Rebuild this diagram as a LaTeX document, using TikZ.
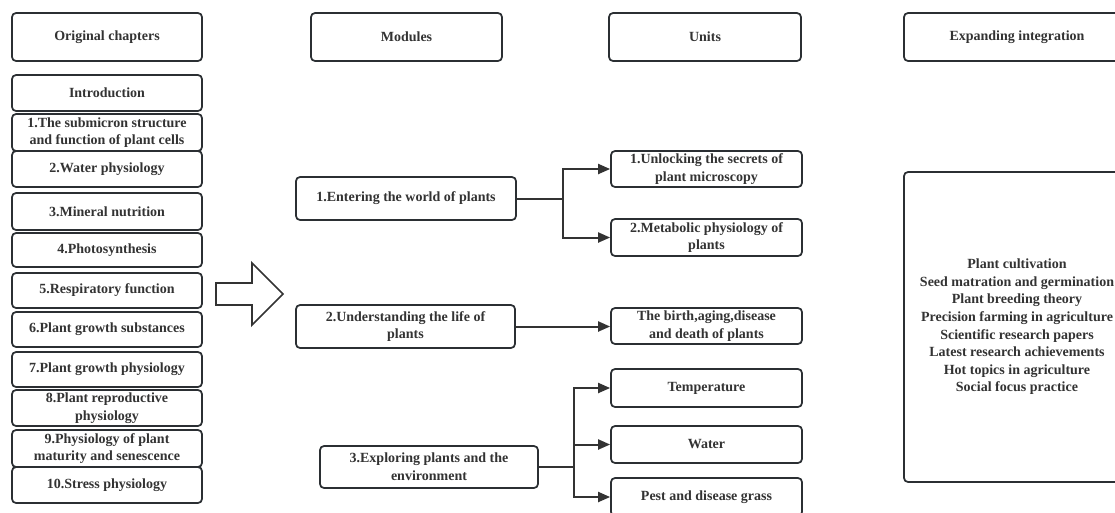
\documentclass[tikz,border=0pt]{standalone}
\usepackage{fontspec}
\setmainfont{Liberation Serif}
\usetikzlibrary{arrows.meta}
\definecolor{linegray}{HTML}{2B2F33}
\definecolor{textgray}{HTML}{333333}
\tikzset{
	box/.style={
		draw=linegray,
		line width=1.3pt,
		rounded corners=3pt,
		fill=white,
		text=textgray,
		font=\bfseries\fontsize{10.5}{13.2}\selectfont,
		align=center,
		inner sep=0pt
	},
	link/.style={
		->,
		draw=textgray,
		line width=1.5pt
	}
}

\begin{document}
\begin{tikzpicture}[x=0.75pt, y=-0.75pt, >={Triangle[length=9pt, width=7.5pt]}]
\useasboundingbox (0,0) rectangle (1115,512);
\clip (0,0) rectangle (1115,512);

% column headers
\foreach \i/\x/\w/\txt in {1/107/190/Original chapters, 2/406.5/191/Modules, 3/705/192/Units, 4/1017/226/Expanding integration} {
	\node[box, minimum width=\w*0.75pt, minimum height=48*0.75pt] (H\i) at (\x, 37) {\txt};
}

% original chapters
\foreach \i/\y/\h/\txt in {0/93/36/Introduction,
	1/132.5/37/{1.The submicron structure\\and function of plant cells},
	2/169/36/2.Water physiology,
	3/211.5/37/3.Mineral nutrition,
	4/250/34/4.Photosynthesis,
	5/290.5/35/5.Respiratory function,
	6/329.5/35/6.Plant growth substances,
	7/369.5/35/7.Plant growth physiology,
	8/408/36/{8.Plant reproductive\\physiology},
	9/448.5/37/{9.Physiology of plant\\maturity and senescence},
	10/485/36/10.Stress physiology} {
	\node[box, minimum width=190*0.75pt, minimum height=\h*0.75pt] (C\i) at (107, \y) {\txt};
}

% big hollow arrow
\draw[draw=textgray, line width=1.3pt, line join=miter] (216,283) -- (252,283) -- (252,263) -- (283,294) -- (252,325) -- (252,305) -- (216,305) -- cycle;

% modules
\node[box, minimum width=220*0.75pt, minimum height=43*0.75pt] (M1) at (406, 198.5) {1.Entering the world of plants};
\node[box, minimum width=219*0.75pt, minimum height=43*0.75pt] (M2) at (405.5, 326.5) {2.Understanding the life of\\plants};
\node[box, minimum width=218*0.75pt, minimum height=42*0.75pt] (M3) at (429, 467) {3.Exploring plants and the\\environment};

% units
\foreach \i/\y/\h/\txt in {1/169/36/{1.Unlocking the secrets of\\plant microscopy},
	2/237.5/37/{2.Metabolic physiology of\\plants},
	3/326/36/{The birth,aging,disease\\and death of plants},
	4/388/38/Temperature,
	5/444.5/37/Water,
	6/497/38/Pest and disease grass} {
	\node[box, minimum width=191*0.75pt, minimum height=\h*0.75pt] (U\i) at (706.5, \y) {\txt};
}

% expanding integration
\node[box, minimum width=226*0.75pt, minimum height=310*0.75pt] (E) at (1017, 327) {Plant cultivation\\Seed matration and germination\\Plant breeding theory\\Precision farming in agriculture\\Scientific research papers\\Latest research achievements\\Hot topics in agriculture\\Social focus practice};

% connectors
\coordinate (B1) at (563, 198.5);
\coordinate (B3) at (574, 467);
\draw[link, -] (M1.east) -- (B1);
\draw[link] (B1) |- (U1.west);
\draw[link] (B1) |- (U2.west);
\draw[link] (M2.east) -- (U3.west |- M2.east);
\draw[link, -] (M3.east) -- (B3);
\foreach \i in {4, 5, 6} {
	\draw[link] (B3) |- (U\i.west);
}
\end{tikzpicture}
\end{document}
